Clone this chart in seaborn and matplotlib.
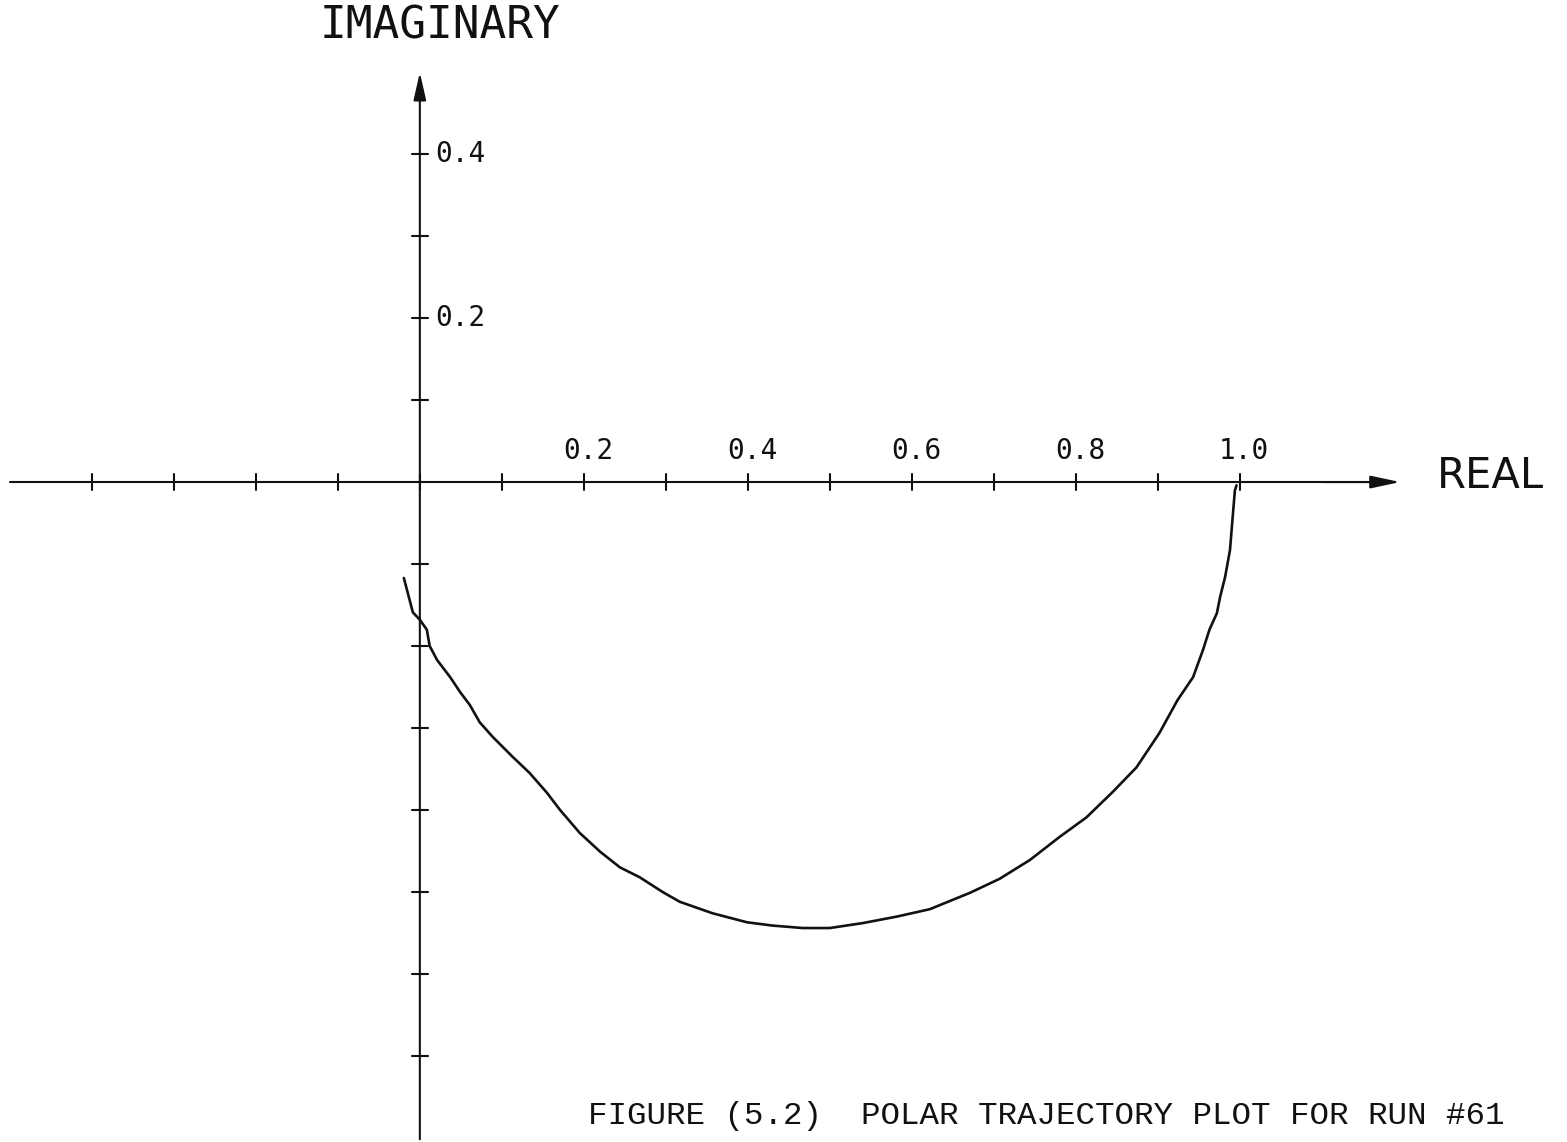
import numpy as np
import pandas as pd
import matplotlib
matplotlib.use("Agg")
import matplotlib.pyplot as plt
import seaborn as sns

# Polar trajectory (real, imaginary parts)
real_part = [-0.0195, -0.0085, 0.0, 0.0085, 0.012, 0.021, 0.037, 0.049, 0.061,
             0.073, 0.089, 0.113, 0.134, 0.155, 0.171, 0.195, 0.220, 0.244,
             0.256, 0.268, 0.296, 0.317, 0.357, 0.399, 0.430, 0.467, 0.500,
             0.540, 0.582, 0.622, 0.671, 0.707, 0.744, 0.780, 0.813, 0.845,
             0.874, 0.902, 0.924, 0.943, 0.955, 0.963, 0.972, 0.976, 0.982,
             0.988, 0.991, 0.994, 0.996]
imag_part = [-0.117, -0.159, -0.168, -0.180, -0.200, -0.217, -0.238, -0.256, -0.272,
             -0.293, -0.311, -0.335, -0.355, -0.379, -0.400, -0.428, -0.451, -0.470,
             -0.476, -0.482, -0.500, -0.512, -0.526, -0.537, -0.541, -0.544, -0.544,
             -0.538, -0.530, -0.521, -0.501, -0.484, -0.461, -0.433, -0.409, -0.378,
             -0.348, -0.306, -0.266, -0.238, -0.205, -0.180, -0.160, -0.140, -0.116,
             -0.083, -0.046, -0.010, -0.004]

x_ticks = [-0.4, -0.3, -0.2, -0.1, 0.0, 0.1, 0.2, 0.3, 0.4, 0.5, 0.6, 0.7, 0.8, 0.9, 1.0]
x_tick_labels = {0.2: "0.2", 0.4: "0.4", 0.6: "0.6", 0.8: "0.8", 1.0: "1.0"}
y_ticks = [-0.7, -0.6, -0.5, -0.4, -0.3, -0.2, -0.1, 0.1, 0.2, 0.3, 0.4]
y_tick_labels = {0.2: "0.2", 0.4: "0.4"}

sns.set_theme(style="white")
plt.rcParams["font.family"] = ["DejaVu Sans Mono", "DejaVu Sans"]

fig = plt.figure(figsize=(15.67, 11.42), dpi=100)
ax = fig.add_axes([0, 0, 1, 1])
ax.set_xlim(-0.512, 1.399)
ax.set_ylim(-0.805, 0.588)
ax.axis("off")

ink = "#111111"

# Real axis with arrow
ax.plot([-0.5, 1.17], [0.0, 0.0], color=ink, lw=1.5)
ax.annotate("", xy=(1.199, 0.0), xytext=(1.10, 0.0),
            arrowprops=dict(arrowstyle="-|>,head_length=1.5,head_width=0.32",
                            color=ink, lw=1.5))
# Imaginary axis with arrow
ax.annotate("", xy=(0.0, 0.503), xytext=(0.0, -0.805),
            arrowprops=dict(arrowstyle="-|>,head_length=1.4,head_width=0.32",
                            color=ink, lw=1.5))

tk = 0.010
for xv in x_ticks:
    ax.plot([xv, xv], [-tk, tk], color=ink, lw=1.5)
    if xv in x_tick_labels:
        ax.text(xv + 0.005, 0.021, x_tick_labels[xv], ha="center", va="bottom",
                fontsize=20, color=ink)
for yv in y_ticks:
    ax.plot([-tk, tk], [yv, yv], color=ink, lw=1.5)
    if yv in y_tick_labels:
        ax.text(0.019, yv, y_tick_labels[yv], ha="left", va="center",
                fontsize=20, color=ink)

ax.text(1.240, 0.007, "REAL", ha="left", va="center", fontsize=30, color=ink,
        family=["DejaVu Sans", "DejaVu Sans Mono"])
ax.text(0.024, 0.556, "IMAGINARY", ha="center", va="center", fontsize=32,
        color=ink)

df = pd.DataFrame({"real": real_part, "imag": imag_part})
sns.lineplot(data=df, x="real", y="imag", sort=False, color=ink, lw=1.9, ax=ax)

ax.text(0.205, -0.773, "FIGURE (5.2)  POLAR TRAJECTORY PLOT FOR RUN #61",
        ha="left", va="center", fontsize=23.4, color=ink,
        family=["Liberation Mono", "DejaVu Sans Mono"])

fig.savefig("out.png", dpi=100, facecolor="white")
